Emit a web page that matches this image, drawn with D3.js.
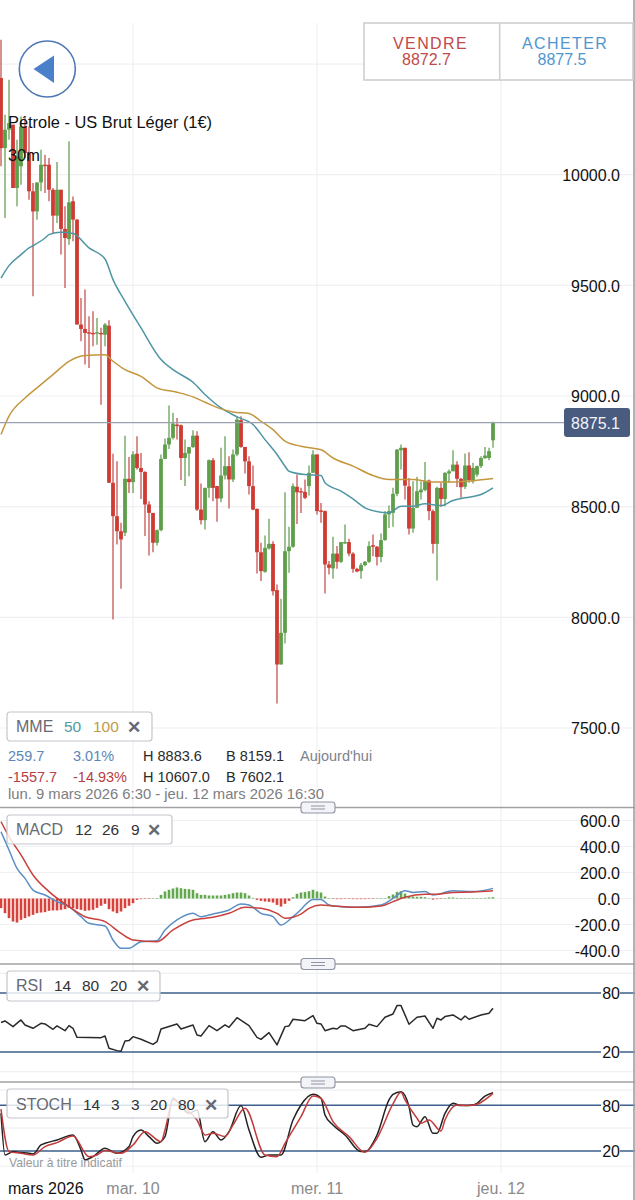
<!DOCTYPE html>
<html><head><meta charset="utf-8">
<style>html,body{margin:0;padding:0;background:#fff}svg{display:block}text{font-family:"Liberation Sans",Arial,sans-serif}</style>
<script src="https://cdn.jsdelivr.net/npm/d3@7/dist/d3.min.js"></script>
</head><body><div id="c"></div>
<script>
const opens=[10437,10120,10203,10226,9940,10038,10218,10098,9925,9834,9965,10045,10045,9932,9815,9932,9755,9709,9880,9797,9323,9303,9288,9285,9284,9285,9277,9318,8608,8457,8389,8382,8626,8611,8739,8675,8657,8510,8472,8337,8394,8716,8781,8811,8871,8868,8720,8740,8769,8821,8487,8439,8585,8710,8593,8537,8641,8683,8623,8736,8891,8770,8705,8593,8490,8294,8206,8311,8332,8123,7787,7930,8299,8319,8590,8570,8567,8593,8653,8736,8483,8480,8239,8221,8288,8251,8334,8340,8288,8219,8209,8236,8251,8326,8319,8273,8349,8465,8472,8558,8755,8766,8592,8401,8495,8565,8575,8618,8480,8332,8585,8535,8650,8660,8690,8626,8590,8686,8615,8645,8683,8719,8720,8800];
const closes=[10120,10203,10233,9940,10083,10218,10098,9925,9834,9965,10045,10041,9932,9815,9932,9755,9714,9875,9797,9323,9303,9285,9284,9282,9288,9282,9323,8608,8457,8389,8352,8626,8611,8736,8675,8657,8510,8472,8337,8394,8716,8781,8811,8876,8864,8720,8743,8769,8821,8487,8439,8585,8710,8585,8537,8641,8683,8623,8736,8894,8770,8705,8593,8487,8294,8209,8314,8332,8118,7787,7930,8299,8319,8593,8565,8565,8540,8653,8736,8480,8478,8239,8224,8288,8251,8340,8340,8288,8219,8207,8236,8251,8322,8319,8273,8349,8465,8480,8558,8758,8766,8595,8401,8495,8570,8577,8615,8480,8332,8585,8535,8653,8660,8690,8626,8588,8686,8620,8675,8683,8720,8731,8751,8880];
const highs=[10610,10271,10429,10226,10158,10263,10263,10218,9962,9965,10113,10090,10075,9940,10057,9932,9857,10151,9902,9800,9443,9481,9360,9383,9353,9308,9330,9342,8739,8705,8427,8821,8725,8751,8818,8743,8660,8525,8472,8397,8736,8808,8957,8924,8901,8871,8803,8770,8845,8841,8605,8585,8713,8720,8593,8766,8818,8728,8758,8909,8909,8770,8728,8686,8492,8337,8370,8445,8344,8148,8084,8565,8409,8605,8645,8585,8623,8686,8755,8736,8517,8483,8254,8364,8322,8340,8419,8355,8294,8224,8246,8254,8344,8374,8322,8379,8480,8505,8585,8761,8781,8766,8630,8615,8635,8615,8702,8623,8487,8590,8608,8656,8668,8755,8705,8630,8740,8746,8698,8686,8728,8770,8766,8884];
const lows=[10038,9804,10158,9940,9857,9955,10075,9887,9451,9797,9925,9917,9880,9737,9782,9639,9488,9684,9699,9323,9247,9142,9127,9225,9232,8961,9225,8608,7990,8329,8129,8367,8562,8562,8668,8535,8367,8279,8294,8325,8389,8716,8761,8803,8803,8620,8593,8638,8766,8480,8419,8397,8540,8525,8432,8520,8623,8492,8611,8728,8766,8650,8555,8484,8198,8164,8201,8307,8099,7611,7787,7882,8201,8314,8422,8472,8535,8550,8653,8465,8427,8108,8194,8174,8219,8246,8332,8276,8201,8204,8174,8231,8246,8276,8234,8249,8346,8404,8409,8547,8668,8532,8374,8382,8495,8532,8570,8439,8288,8167,8499,8502,8608,8660,8589,8540,8580,8608,8605,8635,8675,8716,8710,8766];

const ema50Idx=[0,2,5,7,8,11,12,15,18,22,26,28,31,35,40,43,48,51,55,59,63,66,69,71,72,76,80,81,85,88,91,95,97,100,103,106,110,113,116,120,123];
const ema50=[9533,9589,9639,9669,9679,9714,9729,9740,9734,9669,9619,9526,9428,9308,9165,9119,9062,9007,8946,8906,8871,8803,8736,8683,8660,8645,8641,8608,8570,8535,8495,8475,8472,8502,8502,8513,8505,8528,8540,8555,8585];
const ema100Idx=[0,2,6,9,13,17,21,26,28,31,35,39,44,48,51,55,58,62,65,68,71,75,80,83,88,93,97,103,108,114,118,123];
const ema100=[8826,8909,8991,9037,9097,9157,9183,9187,9157,9119,9089,9037,9017,8996,8972,8942,8928,8921,8886,8848,8796,8773,8757,8720,8683,8641,8623,8623,8612,8612,8617,8627];

const macdIdx=[0,2,4,6,8,11,14,17,20,22,26,28,30,32,35,39,41,44,48,50,53,57,60,62,65,68,70,73,75,76,78,80,82,85,89,95,98,101,103,106,108,113,118,123];
const macdLine=[514,373,232,155,65,27,-24,-63,-140,-191,-211,-319,-383,-383,-332,-324,-242,-165,-114,-140,-119,-88,-42,-50,-114,-140,-204,-140,-85,-50,-8,-8,-50,-63,-68,-50,1,60,47,53,27,60,53,78];
const signalIdx=[0,2,5,8,12,17,21,26,30,33,39,43,48,53,57,61,65,69,71,75,77,80,83,90,95,98,101,106,109,113,118,123];
const signalLine=[591,476,335,181,53,-63,-140,-178,-268,-319,-332,-242,-165,-145,-114,-68,-75,-114,-152,-120,-76,-50,-58,-68,-58,-24,9,32,32,47,50,60];
const macdHist=[-74,-113,-151,-177,-185,-164,-151,-138,-126,-113,-108,-105,-95,-92,-92,-87,-82,-72,-74,-82,-87,-95,-92,-87,-72,-56,-41,-82,-100,-113,-100,-74,-56,-36,-10,-5,-3,-3,0,0,28,54,67,77,85,79,74,72,67,41,28,28,23,23,23,23,28,33,41,46,46,41,23,5,-10,-18,-23,-26,-31,-49,-62,-41,-18,10,36,46,49,56,67,54,46,15,3,-3,-5,-5,-3,-3,-5,-5,-5,-5,-3,-3,2,3,3,18,31,51,56,38,18,15,13,13,10,0,-8,-5,-3,3,8,8,5,3,3,2,2,3,3,5,8,10];

const rsiIdx=[0,1,3,5,6,8,10,11,13,14,16,17,18,19,25,26,27,29,30,31,32,33,35,38,39,40,44,45,48,49,50,52,54,56,57,59,62,64,65,67,69,71,72,73,76,78,79,80,81,83,84,85,86,88,91,92,94,96,98,99,100,102,104,106,108,109,110,111,113,115,116,117,120,122,123];
const rsiLine=[50,51.6,45.8,52.6,47.5,44.1,49.2,48.5,43.1,46.5,41.7,46.8,44.1,34.9,34.6,36.3,23.8,21.4,20.7,31.2,31.6,35.6,32.9,27.8,30.5,43.4,48.5,43.4,47.5,37.3,36.3,46.8,41.7,47.5,45.1,54.9,46.8,34.9,32.9,39.7,27.2,45.8,46.5,53.3,51.9,57,49.2,48.5,41.7,44.1,43.4,46.5,46.5,41.7,44.1,48.2,45.8,55.3,58.7,67.2,67.2,48.2,55.3,56.6,44.1,54.3,52.6,56,57.7,52.6,56.6,53.3,57.7,59.4,64.4];

const stochKIdx=[0,1,3,5,7,8,10,11,14,18,20,21,23,26,29,32,33,35,37,39,41,43,45,47,49,51,53,55,57,60,62,65,67,70,73,75,78,80,81,83,86,90,91,94,97,98,100,102,103,104,106,108,109,111,113,115,118,119,121,123];
const stochK=[69.5,14.8,19.2,17.9,17,16.1,27.9,30.1,34.5,41,21.4,8.3,12.6,23.6,17,25.8,38.9,47.6,38.9,30.1,38.9,89.2,78.3,69.5,73.9,32.3,45.4,34.5,45.4,79.6,47.6,11.8,14.8,14.8,60.7,80.4,94.4,89.2,67.3,54.2,41,19.2,19.2,41,87,94.4,97.9,78.3,54.2,52,65.1,43.3,43.3,69.5,82.6,79.6,80.4,82.6,92.2,96.6];
const stochDIdx=[0,2,5,8,11,14,18,22,24,26,30,33,36,40,41,43,47,49,51,53,56,58,61,66,69,71,75,78,80,83,87,91,94,98,100,101,104,105,107,110,111,114,117,119,123];
const stochD=[75,19.2,17,14.8,25.8,31,39.7,12.6,14.8,20.5,17,27.9,45.4,32.3,47.6,87,71.7,60.7,41,43.3,38.9,54.2,76,14.8,12.6,30.1,65.1,92.2,89.2,58.6,38.9,18.3,36.7,81.8,97,87,62.9,56.4,60.7,46.3,60.7,80.4,79.6,81.3,95.7];

const priceTicks=[10000,9500,9000,8500,8000,7500];
const priceGrid=[10500,10000,9500,9000,8500,8000,7500];
const macdTicks=[600,400,200,0,-200,-400];
const bandTicks=[80,20];
const rsiGrid=[100,0];
const stochGrid=[100,50,0];
const dayLabels=["mar. 10","mer. 11","jeu. 12"];
const dayIndex=[33,79,125];
const lastPrice=8880, lastLabel="8875.1";

const W=635,H=1200;
const svg=d3.select("#c").append("svg").attr("width",W).attr("height",H).attr("viewBox",`0 0 ${W} ${H}`);
const x=d3.scaleLinear().domain([0,123]).range([1,493]);
const yP=d3.scaleLinear().domain([10000,7500]).range([174.7,728]);
const yM=d3.scaleLinear().domain([0,600]).range([898.5,820.5]);
const yR=d3.scaleLinear().domain([80,20]).range([993,1052]);
const yS=d3.scaleLinear().domain([80,20]).range([1105.3,1151]);

const gridC="#eef0f3";
const g=svg.append("g");
function hgrid(vals,y){g.selectAll(null).data(vals).enter().append("line").attr("x1",0).attr("x2",633).attr("y1",y).attr("y2",y).attr("stroke",gridC).attr("stroke-width",1.2);}
hgrid(priceGrid,d=>yP(d));hgrid(macdTicks,d=>yM(d));hgrid(rsiGrid,d=>yR(d));hgrid(stochGrid,d=>yS(d));
g.selectAll(null).data(dayIndex).enter().append("line").attr("x1",d=>x(d)).attr("x2",d=>x(d)).attr("y1",23).attr("y2",1173).attr("stroke",gridC).attr("stroke-width",1.2);

// separators
const seps=[807.5,964,1082];
svg.selectAll(null).data(seps).enter().append("line").attr("x1",0).attr("x2",W).attr("y1",d=>d).attr("y2",d=>d).attr("stroke","#a2a2a4").attr("stroke-width",1.3);

// candles
const idx=d3.range(opens.length);
const colR="#cf3a33",colG="#5f9f4c",wickR="#c9605f",wickG="#71a862";
const up=i=>closes[i]>=opens[i];
svg.append("g").selectAll("line").data(idx).enter().append("line")
 .attr("x1",i=>x(i)).attr("x2",i=>x(i)).attr("y1",i=>yP(highs[i])).attr("y2",i=>yP(lows[i]))
 .attr("stroke",i=>up(i)?wickG:wickR).attr("stroke-width",1.4);
svg.append("g").selectAll("rect").data(idx).enter().append("rect")
 .attr("x",i=>x(i)-1.9).attr("width",3.8)
 .attr("y",i=>Math.min(yP(opens[i]),yP(closes[i])))
 .attr("height",i=>Math.max(1.4,Math.abs(yP(opens[i])-yP(closes[i]))))
 .attr("fill",i=>up(i)?colG:colR);

function series(ids,vals,y,color,w,curve){
 const line=d3.line().x(d=>x(d[0])).y(d=>y(d[1])).curve(curve||d3.curveLinear);
 svg.append("path").attr("d",line(d3.zip(ids,vals))).attr("fill","none").attr("stroke",color).attr("stroke-width",w).attr("stroke-linejoin","round");
}
series(ema50Idx,ema50,yP,"#4f96a3",1.5,d3.curveMonotoneX);
series(ema100Idx,ema100,yP,"#c4973f",1.5,d3.curveMonotoneX);

// last price line
svg.append("line").attr("x1",0).attr("x2",565).attr("y1",yP(lastPrice)).attr("y2",yP(lastPrice)).attr("stroke","#9ca1af").attr("stroke-width",1.2);

// MACD histogram
svg.append("g").selectAll("rect").data(macdHist.map((v,i)=>[i,v])).enter().append("rect")
 .attr("x",d=>x(d[0])-1.3).attr("width",2.6)
 .attr("y",d=>Math.min(yM(0),yM(d[1]))).attr("height",d=>Math.max(.5,Math.abs(yM(d[1])-yM(0))))
 .attr("fill",d=>d[1]>=0?"#63a84f":"#d8423c");
series(macdIdx,macdLine,yM,"#5b8fc4",1.5,d3.curveMonotoneX);
series(signalIdx,signalLine,yM,"#c8413c",1.5,d3.curveMonotoneX);

// RSI & stoch band lines
const bandC="#3d5f8d";
for(const y of [yR,yS]){
 svg.append("g").selectAll("line").data(bandTicks).enter().append("line").attr("x1",0).attr("x2",W).attr("y1",d=>y(d)).attr("y2",d=>y(d)).attr("stroke",bandC).attr("stroke-width",1.5);
}
series(rsiIdx,rsiLine,yR,"#2a2a2a",1.5);
series(stochKIdx,stochK,yS,"#222",1.5,d3.curveMonotoneX);
series(stochDIdx,stochD,yS,"#c23b3b",1.5,d3.curveMonotoneX);

// right edge
svg.append("line").attr("x1",634).attr("x2",634).attr("y1",0).attr("y2",H).attr("stroke","#9a9a9c").attr("stroke-width",1.5);

// axes
const fmt=d=>d.toFixed(1);
function axis(y,ticks,f,bg){
 const a=svg.append("g").attr("transform","translate(620,0)").call(d3.axisLeft(y).tickValues(ticks).tickSize(0).tickPadding(0).tickFormat(f));
 a.select(".domain").remove();
 a.selectAll("text").attr("font-size",16).attr("fill","#111").attr("font-family","Liberation Sans").attr("dy","0.36em");
 if(bg){a.selectAll(".tick").insert("rect","text").attr("x",-19).attr("y",-8).attr("width",19).attr("height",16).attr("fill","#fff");}
}
axis(yP,priceTicks,fmt);
axis(yM,macdTicks,fmt);
axis(yR,bandTicks,d=>d,true);
axis(yS,bandTicks,d=>d,true);

// helpers
function T(s,xp,yp,size,fill,extra={}){
 const t=svg.append("text").attr("x",xp).attr("y",yp).attr("font-size",size).attr("fill",fill).text(s);
 for(const k in extra)t.attr(k,extra[k]);return t;
}
// handles
svg.selectAll(null).data([802,958.5,1077]).enter().append("rect").attr("x",301).attr("y",d=>d).attr("width",34).attr("height",11).attr("rx",3).attr("fill","#f3f4f7").attr("stroke","#8f93a3").attr("stroke-width",1.1);
for(const d of [802,958.5,1077]){for(const o of [4,7]){svg.append("line").attr("x1",311).attr("x2",325).attr("y1",d+o).attr("y2",d+o).attr("stroke","#8f93a3").attr("stroke-width",1);}}

// back button
svg.append("circle").attr("cx",47.3).attr("cy",69).attr("r",28).attr("fill","#fff").attr("fill-opacity",.6).attr("stroke","#4f78b4").attr("stroke-width",1.6);
svg.append("path").attr("d",d3.line()([[33.5,69],[54,55.5],[54,83]])+"Z").attr("fill","#4a7fc9");

// title
T("Pétrole - US Brut Léger (1€)",8,128,16.4,"#111");
T("30m",8,160.5,16.4,"#111");

// sell/buy
svg.append("rect").attr("x",364).attr("y",23).attr("width",269).attr("height",57).attr("fill","#fff").attr("stroke","#cfcfcf").attr("stroke-width",1.6);
svg.append("line").attr("x1",499.7).attr("x2",499.7).attr("y1",23).attr("y2",80).attr("stroke","#cfcfcf").attr("stroke-width",1.6);
T("VENDRE",393,49,16,"#bf4a4a",{"letter-spacing":"1.4px"});
T("8872.7",402,65,16,"#bf4a4a");
T("ACHETER",522,49,16,"#4f96cf",{"letter-spacing":"1.4px"});
T("8877.5",537.5,65,16,"#4f96cf");

// price tag
svg.append("rect").attr("x",564).attr("y",408).attr("width",66).attr("height",29).attr("rx",3).attr("fill","#4a5b80");
T(lastLabel,571,429,16,"#f2f4f8");

// legend boxes
function box(xp,yp,w,h){svg.append("rect").attr("x",xp).attr("y",yp).attr("width",w).attr("height",h).attr("rx",3).attr("fill","#fff").attr("fill-opacity",.82).attr("stroke","#c4c6cc").attr("stroke-width",1.2);}
const gray="#666a72",dark="#333";
box(7,712,145,29);
T("MME",16,732,16,gray);T("50",64,732,15.5,"#4f9aa5");T("100",93,732,15.5,"#c09a4a");
T("✕",127,733,17,gray,{"font-weight":"bold"});
box(7,815,165,29);
T("MACD",16,835,16,gray);T("12",75,835,15.5,dark);T("26",102,835,15.5,dark);T("9",131,835,15.5,dark);
T("✕",147,836,17,gray,{"font-weight":"bold"});
box(7,971,153,30);
T("RSI",16,991,16,gray);T("14",54,991,15.5,dark);T("80",82,991,15.5,dark);T("20",110,991,15.5,dark);
T("✕",136,992,17,gray,{"font-weight":"bold"});
box(7,1089,221,29);
T("STOCH",16,1110,16,gray);T("14",83,1110,15.5,dark);T("3",111,1110,15.5,dark);T("3",131,1110,15.5,dark);T("20",150,1110,15.5,dark);T("80",178,1110,15.5,dark);
T("✕",204,1111,17,gray,{"font-weight":"bold"});

// stats
const blue="#5b86b8",red="#b5403f",ink="#2b2b2b";
T("259.7",8,761,14.5,blue);T("3.01%",73,761,14.5,blue);T("H 8883.6",143,761,14.5,ink);T("B 8159.1",226,761,14.5,ink);T("Aujourd'hui",300,761,14.5,"#7d838d");
T("-1557.7",8,782,14.5,red);T("-14.93%",73,782,14.5,red);T("H 10607.0",143,782,14.5,ink);T("B 7602.1",226,782,14.5,ink);
T("lun. 9 mars 2026 6:30 - jeu. 12 mars 2026 16:30",8,798.5,14.8,"#7d7d80");

// footer
T("Valeur à titre indicatif",9,1167,12.2,"#9a9a9a");
T("mars 2026",8,1193.5,16,"#111");
svg.append("g").selectAll("text").data(dayLabels).enter().append("text").attr("x",(d,i)=>x(dayIndex[i])).attr("y",1193.5).attr("text-anchor","middle").attr("font-size",16).attr("fill","#8a8a8a").text(d=>d);
</script></body></html>
